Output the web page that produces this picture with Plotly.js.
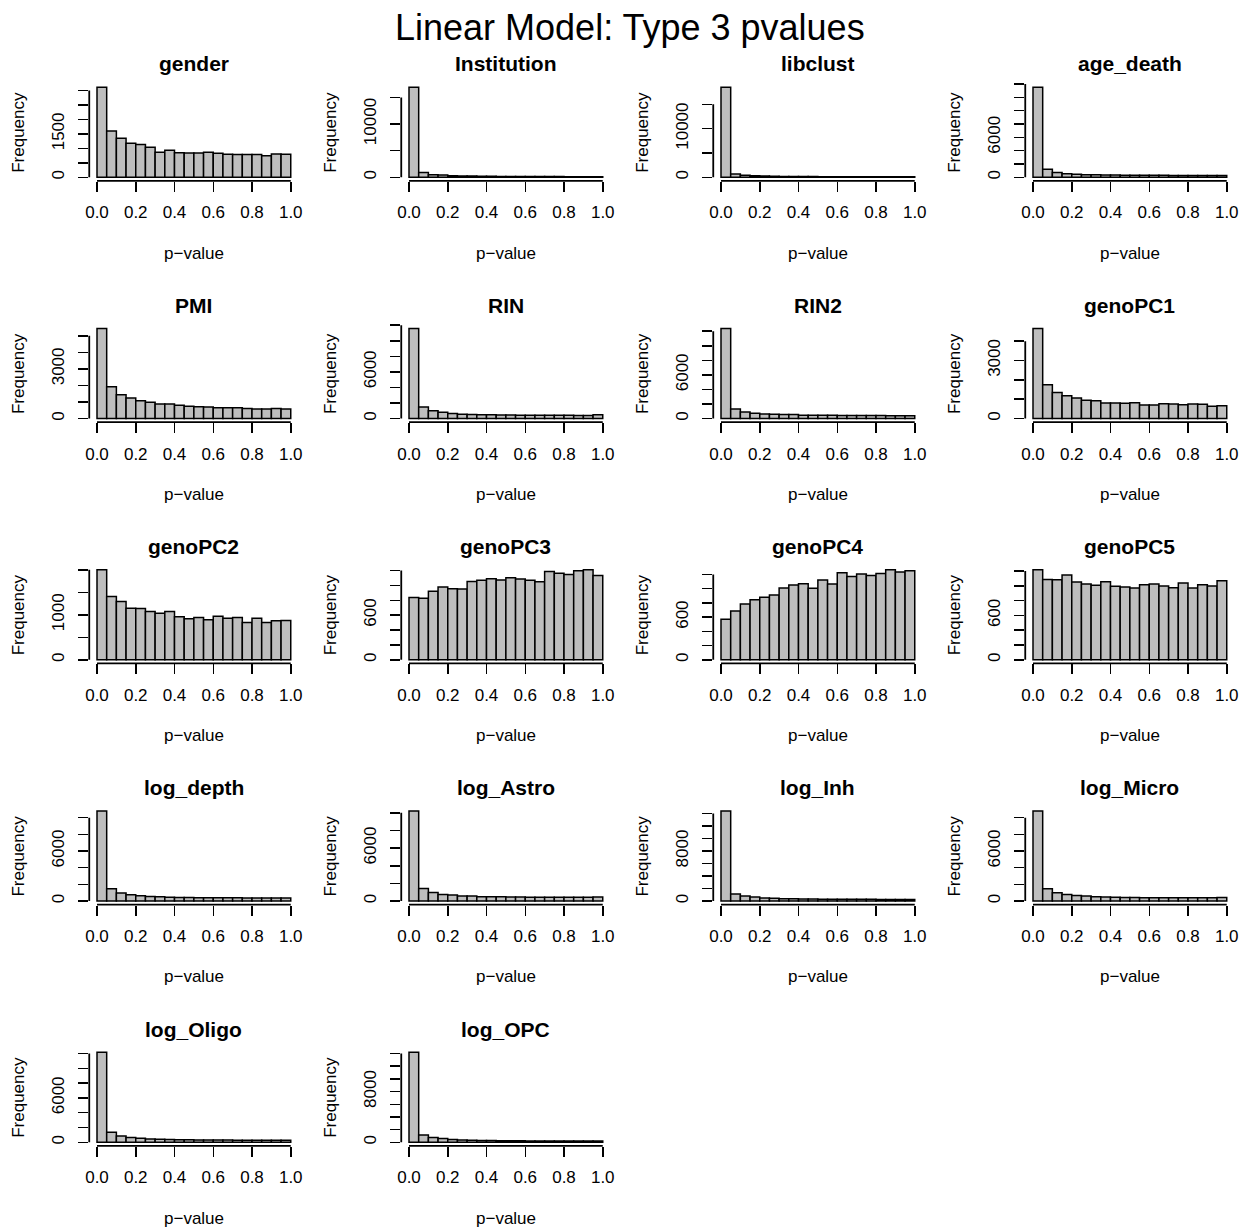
<!DOCTYPE html>
<html>
<head>
<meta charset="utf-8">
<script src="https://cdn.plot.ly/plotly-3.0.1.min.js"></script>
<style>html,body{margin:0;padding:0;background:#fff;}#chart{width:1248px;height:1230px;}</style>
</head>
<body>
<div id="chart"></div>
<script>
// ---------------- DATA ----------------
const mainTitle = "Linear Model: Type 3 pvalues";
const panelNames = ["gender","Institution","libclust","age_death","PMI","RIN","RIN2","genoPC1",
  "genoPC2","genoPC3","genoPC4","genoPC5","log_depth","log_Astro","log_Inh","log_Micro","log_Oligo","log_OPC"];
const breaks = [0,0.05,0.1,0.15,0.2,0.25,0.3,0.35,0.4,0.45,0.5,0.55,0.6,0.65,0.7,0.75,0.8,0.85,0.9,0.95,1.0];
const xTickVals = [0,0.2,0.4,0.6,0.8,1.0];
const xTickText = ["0.0","0.2","0.4","0.6","0.8","1.0"];
const xLabel = "p\u2212value";
const yLabel = "Frequency";

const gender      = [3115,1604,1350,1177,1131,1038,865,935,854,842,842,865,831,796,785,785,785,750,808,796];
const Institution = [16900,880,500,420,310,260,230,200,190,170,160,150,140,140,130,130,120,120,120,120];
const libclust    = [18500,690,410,330,250,210,190,170,150,140,130,130,120,120,110,110,110,100,100,100];
const age_death   = [13500,1200,720,520,460,400,370,350,340,320,310,300,290,290,280,280,280,270,280,270];
const PMI         = [5440,1920,1440,1240,1080,980,880,880,800,740,720,700,660,660,660,600,580,580,600,580];
const RIN         = [11574,1500,1000,800,650,560,520,500,480,460,450,440,430,420,420,410,410,400,400,480];
const RIN2        = [12364,1320,910,730,640,590,560,560,470,460,450,440,430,420,420,410,410,400,400,400];
const genoPC1     = [4650,1744,1350,1179,1060,940,923,803,803,786,820,701,701,769,752,718,752,735,632,667];
const genoPC2     = [2000,1407,1296,1148,1141,1074,1037,1074,956,911,941,889,970,926,941,830,926,830,867,874];
const genoPC3     = [836,827,920,978,956,951,1053,1067,1089,1071,1102,1084,1067,1049,1187,1164,1147,1196,1209,1133];
const genoPC4     = [570,687,785,846,879,911,1009,1051,1070,1005,1121,1065,1224,1173,1206,1187,1215,1266,1234,1252];
const genoPC5     = [1217,1087,1083,1145,1051,1025,1007,1056,993,984,971,1016,1025,998,975,1038,971,1016,998,1069];
const log_depth   = [10800,1480,960,760,640,560,520,450,440,420,410,400,400,390,390,380,370,370,370,370];
const log_Astro   = [10200,1430,980,750,680,570,560,490,490,480,460,450,420,420,420,420,420,420,420,450];
const log_Inh     = [14400,1120,800,640,480,430,380,350,320,310,300,300,290,280,270,270,260,260,260,260];
const log_Micro   = [10800,1480,1000,800,680,600,520,480,460,440,420,410,400,400,400,400,400,400,400,440];
const log_Oligo   = [12160,1350,860,640,540,460,420,380,340,330,320,310,300,300,290,290,280,280,280,280];
const log_OPC     = [14200,1160,740,580,440,380,330,290,270,250,240,230,220,210,200,200,190,190,190,190];

const yTickVals = [
  [0,500,1000,1500,2000,2500,3000],
  [0,5000,10000,15000],
  [0,5000,10000,15000],
  [0,2000,4000,6000,8000,10000,12000,14000],
  [0,1000,2000,3000,4000,5000],
  [0,2000,4000,6000,8000,10000,12000],
  [0,2000,4000,6000,8000,10000,12000],
  [0,1000,2000,3000,4000],
  [0,500,1000,1500,2000],
  [0,200,400,600,800,1000,1200],
  [0,200,400,600,800,1000,1200],
  [0,200,400,600,800,1000,1200],
  [0,2000,4000,6000,8000,10000],
  [0,2000,4000,6000,8000,10000],
  [0,2000,4000,6000,8000,10000,12000,14000],
  [0,2000,4000,6000,8000,10000],
  [0,2000,4000,6000,8000,10000,12000],
  [0,2000,4000,6000,8000,10000,12000,14000]
];
const yTickShown = [
  ["0","1500"],["0","10000"],["0","10000"],["0","6000"],
  ["0","3000"],["0","6000"],["0","6000"],["0","3000"],
  ["0","1000"],["0","600"],["0","600"],["0","600"],
  ["0","6000"],["0","6000"],["0","8000"],["0","6000"],
  ["0","6000"],["0","8000"]
];
const panelCounts = [gender,Institution,libclust,age_death,PMI,RIN,RIN2,genoPC1,
  genoPC2,genoPC3,genoPC4,genoPC5,log_depth,log_Astro,log_Inh,log_Micro,log_Oligo,log_OPC];

// ---------------- LAYOUT ----------------
const W = 1248, H = 1230;
const colW = 312, rowH = 241.25;
const regL = 89.25, regR = 298.5, regT = 83.7, regB = 180.9;
const FONT = "Liberation Sans, Arial, Helvetica, sans-serif";

const traces = [];
const layout = {
  width: W, height: H,
  margin: {l:0, r:0, t:0, b:0, pad:0},
  paper_bgcolor: "#ffffff", plot_bgcolor: "#ffffff",
  showlegend: false,
  font: {family: FONT, color: "#000", size: 17},
  shapes: [], annotations: []
};

const centers = breaks.slice(0,-1).map((b,i)=> (b+breaks[i+1])/2);
const widths = breaks.slice(0,-1).map((b,i)=> breaks[i+1]-b);

panelCounts.forEach((counts, i) => {
  const r = Math.floor(i/4), c = i%4;
  const n = i===0 ? "" : String(i+1);
  const xa = "x"+n, ya = "y"+n;
  const M = Math.max(...counts);
  traces.push({
    type: "bar", x: centers, y: counts, width: widths,
    xaxis: xa, yaxis: ya,
    marker: {color: "#BEBEBE", line: {color: "#000", width: 1.5}},
    hoverinfo: "skip"
  });
  const x0 = (regL + c*colW)/W, x1 = (regR + c*colW)/W;
  const yTop = regT + r*rowH, yBot = regB + r*rowH;
  const ticks = yTickVals[i];
  const ttext = ticks.map(v => yTickShown[i].includes(String(v)) ? String(v) : "");
  layout["xaxis"+n] = {
    domain: [x0, x1], anchor: ya, range: [-0.04, 1.04],
    showgrid: false, zeroline: false, showline: false,
    tickmode: "array", tickvals: xTickVals, ticktext: xTickText,
    ticks: "outside", ticklen: 10, tickwidth: 1.5, tickcolor: "#000",
    tickfont: {family: FONT, size: 17, color: "#000"},
    ticklabelstandoff: 6, fixedrange: true
  };
  layout["yaxis"+n] = {
    domain: [1 - yBot/H, 1 - yTop/H], anchor: xa, range: [-0.04*M, 1.04*M],
    showgrid: false, zeroline: false, showline: false,
    tickmode: "array", tickvals: ticks, ticktext: ttext,
    ticks: "outside", ticklen: 10, tickwidth: 1.5, tickcolor: "#000",
    tickangle: -90,
    tickfont: {family: FONT, size: 17, color: "#000"},
    ticklabelstandoff: 7, fixedrange: true
  };
  // axis lines spanning tick range (R style)
  layout.shapes.push({type:"line", xref: xa, yref: ya+" domain", x0: xTickVals[0], x1: xTickVals[xTickVals.length-1], y0: 0, y1: 0,
    line: {color:"#000", width: 1.8}});
  layout.shapes.push({type:"line", xref: xa+" domain", yref: ya, x0: 0, x1: 0, y0: ticks[0], y1: ticks[ticks.length-1],
    line: {color:"#000", width: 1.8}});
  // panel title
  layout.annotations.push({text: "<b>"+panelNames[i]+"</b>", xref:"paper", yref:"paper",
    x: (x0+x1)/2, y: 1 - (64 + r*rowH)/H, xanchor:"center", yanchor:"middle", showarrow:false,
    font:{family: FONT, size: 21, color:"#000"}});
  // x label
  layout.annotations.push({text: xLabel, xref:"paper", yref:"paper",
    x: (x0+x1)/2, y: 1 - (253 + r*rowH)/H, xanchor:"center", yanchor:"middle", showarrow:false,
    font:{family: FONT, size: 17, color:"#000"}});
  // y label
  layout.annotations.push({text: yLabel, xref:"paper", yref:"paper", textangle: -90,
    x: (18.5 + c*colW)/W, y: 1 - ((yTop+yBot)/2)/H, xanchor:"center", yanchor:"middle", showarrow:false,
    font:{family: FONT, size: 17, color:"#000"}});
});

layout.annotations.push({text: mainTitle, xref:"paper", yref:"paper", x: 630/W, y: 1 - 27/H,
  xanchor:"center", yanchor:"middle", showarrow:false, font:{family: FONT, size: 36, color:"#000"}});

Plotly.newPlot("chart", traces, layout, {staticPlot: true, displayModeBar: false});
</script>
</body>
</html>
